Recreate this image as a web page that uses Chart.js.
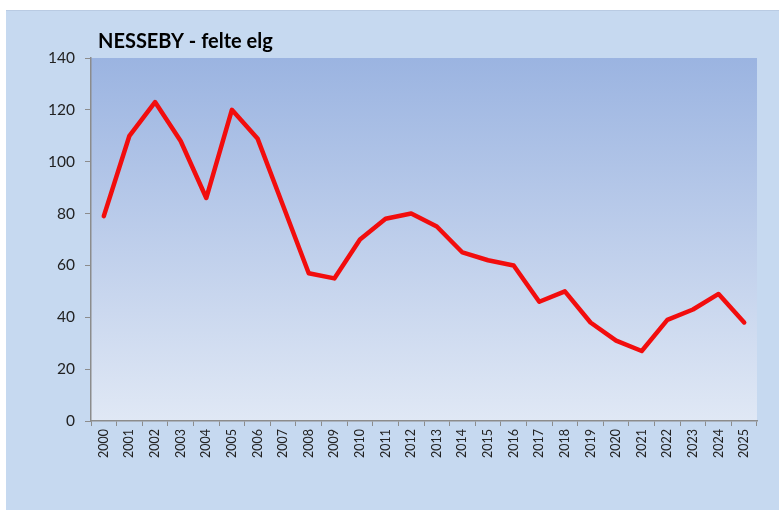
<!DOCTYPE html>
<html><head><meta charset="utf-8">
<script src="https://cdn.jsdelivr.net/npm/chart.js@4"></script>
<style>html,body{margin:0;padding:0;background:#fff;}#wrap{width:779px;height:510px;}</style>
</head><body><div id="wrap"><canvas id="c" width="779" height="510"></canvas></div>
<script>
const chartTitle = "NESSEBY - felte elg";
const years = ["2000","2001","2002","2003","2004","2005","2006","2007","2008","2009","2010","2011","2012","2013","2014","2015","2016","2017","2018","2019","2020","2021","2022","2023","2024","2025"];
const felteElg = [79,110,123,108,86,120,109,83,57,55,70,78,80,75,65,62,60,46,50,38,31,27,39,43,49,38];
const yTicks = [0,20,40,60,80,100,120,140];

const bgPlugin = {
  id: 'bg',
  beforeDraw(chart) {
    const ctx = chart.ctx, a = chart.chartArea;
    ctx.save();
    ctx.fillStyle = '#ffffff';
    ctx.fillRect(0, 0, chart.width, chart.height);
    ctx.fillStyle = '#c6d9f0';
    ctx.fillRect(6, 10, chart.width - 6, chart.height - 10);
    ctx.fillStyle = '#b9cbe3';
    ctx.fillRect(6, 10, chart.width - 6, 1);
    const g = ctx.createLinearGradient(0, a.top, 0, a.bottom);
    g.addColorStop(0, '#9bb4e1');
    g.addColorStop(1, '#e0e8f5');
    ctx.fillStyle = g;
    ctx.fillRect(a.left, a.top, a.right - a.left, a.bottom - a.top);
    ctx.fillStyle = '#000000';
    ctx.font = 'bold 20px Lato, "Open Sans", sans-serif';
    ctx.textBaseline = 'middle';
    ctx.fillText(chartTitle, 98, 42);
    ctx.restore();
  }
};

new Chart(document.getElementById('c'), {
  type: 'line',
  data: {
    labels: years,
    datasets: [{
      data: felteElg,
      borderColor: '#f20d0d',
      borderWidth: 4.5,
      pointRadius: 0,
      tension: 0,
      fill: false,
      borderJoinStyle: 'round',
      borderCapStyle: 'round'
    }]
  },
  options: {
    responsive: false,
    animation: false,
    layout: { padding: { top: 58, right: 22, left: 0, bottom: 0 } },
    plugins: { legend: { display: false }, tooltip: { enabled: false } },
    scales: {
      x: {
        offset: true,
        grid: { display: true, drawOnChartArea: false, offset: true, tickLength: 5, color: '#8c8c8c' },
        border: { color: '#8c8c8c', width: 1.5 },
        ticks: { minRotation: 90, maxRotation: 90, autoSkip: false, color: '#222', font: { family: 'Lato, "Open Sans", sans-serif', size: 12.5 }, padding: 3 },
        afterFit(s) { s.height = 89; }
      },
      y: {
        min: 0, max: 140,
        afterBuildTicks(s) { s.ticks = yTicks.map(v => ({ value: v })); },
        grid: { display: true, drawOnChartArea: false, tickLength: 6, color: '#8c8c8c' },
        border: { color: '#8c8c8c', width: 1.5 },
        ticks: { color: '#222', font: { family: 'Lato, "Open Sans", sans-serif', size: 15.5 }, padding: 10 },
        afterFit(s) { s.width = 91; }
      }
    }
  },
  plugins: [bgPlugin]
});
</script></body></html>
